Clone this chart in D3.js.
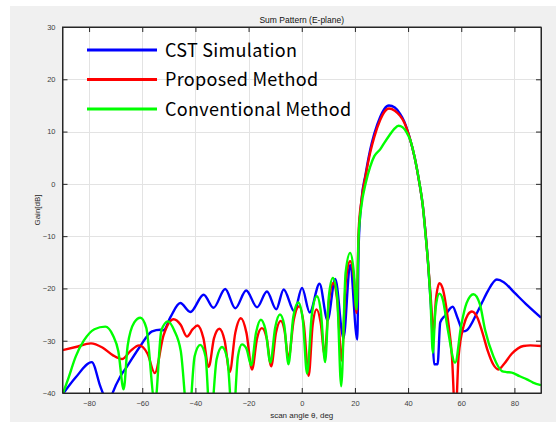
<!DOCTYPE html>
<html><head><meta charset="utf-8">
<script src="https://cdn.jsdelivr.net/npm/d3@7"></script>
<style>
html,body{margin:0;padding:0;background:#fff;}
svg{display:block;}
</style></head>
<body>
<svg id="c" width="556" height="422"></svg>
<script>
const chartTitle = "Sum Pattern (E-plane)";
const xLabel = "scan angle \u03B8, deg";
const yLabel = "Gain[dB]";
const xTicks = [-80,-60,-40,-20,0,20,40,60,80];
const yTicks = [-40,-30,-20,-10,0,10,20,30];
const seriesNames = ["CST Simulation","Proposed Method","Conventional Method"];
const seriesColors = ["#0000ff","#ff0000","#00ff00"];

const cstAngle = [-90,-85,-79,-75.8,-74.5,-73,-71.5,-68.2,-65.7,-60.7,-56.3,-53.2,-52,-49.4,-45.7,-41.9,-36.9,-33.2,-28.8,-25,-20.9,-16.8,-13.1,-9.6,-6.8,-2.8,0.1,3,6.7,9.7,12.6,15.7,18.2,20.9,21.4,22.5,24,25.75,27.3,29.5,31,32.8,35,37,38.5,40.5,42.5,44.3,45.5,46.5,47.5,48.5,49.2,49.8,51.1,52.1,53.9,56.8,58.5,60.8,62.1,65.9,68,70,73.4,76,80,85,90];
const cstGain  = [-40.3,-37,-34.1,-38.7,-40.5,-43,-40.5,-36.8,-34.9,-31,-28.2,-27.9,-28,-25.5,-22.8,-24.5,-21.2,-23.7,-20.1,-23.8,-20.4,-23.6,-20.6,-24,-20.2,-24.4,-19.9,-24.6,-19.1,-26.1,-18.2,-29.5,-15.5,-29.8,-12,-3,1.8,6.5,9.6,12.8,14.3,15,14.6,13.4,12,9,5,0,-4,-9,-15,-22.5,-29,-34.5,-34.5,-26.5,-25.2,-23.5,-25.5,-28.2,-28,-24.7,-22.5,-20.5,-18.3,-18.8,-20.8,-23.3,-25.6];

const propAngle = [-90,-85,-79.3,-75,-71,-67.6,-64.5,-61.2,-58,-55.3,-52,-48.2,-45.5,-43.2,-41,-39.2,-37,-35,-33,-31,-29,-27.1,-25,-22.9,-20.8,-18.7,-16.8,-15,-13.2,-11.5,-9.7,-7.9,-6.5,-5,-3,-1,0.8,2.6,4.1,5.6,7.1,8.6,10.2,11.8,13.4,15,16.6,18.2,19.6,20.6,21.4,22.5,24,25.75,27.3,29.5,31,32.8,35,37,38.5,40.5,42.5,44.3,45.5,46.5,47.5,48.5,49.5,50.5,51.8,53,55,56.5,57.8,59,61,62.5,64,66,68,70,72,74,76,79,83.4,86,90];
const propGain  = [-31.8,-31.2,-30.5,-31.3,-32.8,-33.5,-32,-30.9,-32.5,-36.2,-29,-25.9,-27,-29.2,-27.8,-27.1,-29.5,-35,-29.5,-27.7,-30,-36,-28.5,-25.7,-28.5,-35.5,-29.5,-27.6,-29.5,-34.9,-28.5,-26.2,-28,-33.4,-26,-23.4,-27,-36.7,-27,-24,-26.5,-32.6,-22.5,-19,-22.5,-33.8,-18.5,-14.8,-18,-24.7,-9,-3,1.5,6,9,12.2,13.7,14.4,14,13,11.8,9,5,0,-4,-9,-15,-21.5,-28.5,-22,-19,-20,-26,-33,-45,-33,-27,-25,-24.4,-25.5,-28.5,-32,-34.5,-35.5,-34.5,-32.5,-31,-30.9,-31];

const convAngle = [-90,-88,-85,-82,-78,-73.9,-71,-69,-67,-65.5,-63,-60.7,-58.5,-55.2,-52.8,-50.3,-48,-45.5,-42.6,-40.3,-38.2,-36.2,-34.4,-32,-30,-28,-25.9,-24,-22.5,-20.8,-19,-17.2,-15.4,-13.6,-11.8,-10,-8.2,-6.6,-5,-3.2,-1.3,0.4,2,3.8,5.7,7.2,8.8,10.2,11.7,13.3,14.85,16.5,18.2,19.5,20.6,21.4,22.5,24,25.75,27.3,29.5,31,33,34.8,36.4,38,39.5,40.8,42.5,44.3,45.5,46.5,47.5,48.5,49.3,50.3,51.8,53,55,57.7,60,62,64.6,67,69,72.1,75.3,77,79,82,84.7,87,90];
const convGain  = [-40.3,-37.5,-33,-30,-27.8,-27.3,-29,-32,-39.3,-31,-26.5,-25.6,-27.5,-42,-28,-26.3,-28,-32,-46,-33,-30.8,-33,-46,-33.5,-31.2,-33.5,-46,-33,-30.7,-31.5,-34.7,-28.5,-26,-28,-34.2,-27.5,-25,-27,-34.5,-25.5,-22.7,-26,-36.3,-25,-21.5,-24.5,-34.1,-21.5,-18,-21.5,-38.7,-17,-13.2,-16.5,-24,-10,-4,0,3.3,5.3,6.6,7.8,9.3,10.5,11.1,10.8,9.8,8.4,5,0.1,-4,-9.4,-15,-23,-32.3,-24,-21,-22,-28,-34.2,-27,-22.8,-21.1,-23,-28,-33,-35.8,-36,-36.1,-36.8,-37.4,-38,-38.5];

const series = [
  {name: seriesNames[0], color: seriesColors[0], angle: cstAngle, gain: cstGain},
  {name: seriesNames[1], color: seriesColors[1], angle: propAngle, gain: propGain},
  {name: seriesNames[2], color: seriesColors[2], angle: convAngle, gain: convGain}
];

const svg = d3.select("#c");
const W = 556, H = 422;
const L = 62.5, R = 541, T = 27, B = 393;

svg.append("rect").attr("x",10).attr("y",6).attr("width",W-10).attr("height",H-6).attr("fill","#f0f0f0");
svg.append("rect").attr("x",L).attr("y",T).attr("width",R-L).attr("height",B-T).attr("fill","#ffffff");

const x = d3.scaleLinear().domain([-90,90]).range([L,R]);
const y = d3.scaleLinear().domain([-40,30]).range([B,T]);

// grid
const grid = svg.append("g").attr("stroke","#e3e3e3").attr("stroke-width",1);
xTicks.forEach(t=>grid.append("line").attr("x1",Math.round(x(t))+0.5).attr("x2",Math.round(x(t))+0.5).attr("y1",T).attr("y2",B));
yTicks.forEach(t=>grid.append("line").attr("y1",Math.round(y(t))+0.5).attr("y2",Math.round(y(t))+0.5).attr("x1",L).attr("x2",R));

// clip
svg.append("defs").append("clipPath").attr("id","pc").append("rect").attr("x",L).attr("y",T).attr("width",R-L).attr("height",B-T);

const line = d3.line().x(d=>x(d[0])).y(d=>y(d[1])).curve(d3.curveMonotoneX);
const lines = svg.append("g").attr("clip-path","url(#pc)");
series.forEach(s=>{
  const pts = s.angle.map((a,i)=>[a,s.gain[i]]);
  lines.append("path").attr("d",line(pts)).attr("fill","none").attr("stroke",s.color).attr("stroke-width",2.4).attr("stroke-linejoin","round");
});

// axes
const fontTick = "Helvetica, Arial, 'Liberation Sans', sans-serif";
const xAxB = d3.axisBottom(x).tickValues(xTicks).tickSizeInner(-5).tickSizeOuter(0).tickPadding(8);
const xAxT = d3.axisTop(x).tickValues(xTicks).tickSizeInner(-5).tickSizeOuter(0).tickFormat("");
const yAxL = d3.axisLeft(y).tickValues(yTicks).tickSizeInner(-5).tickSizeOuter(0).tickPadding(7);
const yAxR = d3.axisRight(y).tickValues(yTicks).tickSizeInner(-5).tickSizeOuter(0).tickFormat("");
function style(g){
  g.selectAll("path").attr("stroke","#262626");
  g.selectAll("line").attr("stroke","#262626");
  g.selectAll("text").attr("fill","#404040").attr("font-family",fontTick).attr("font-size","7.5px");
}
svg.append("g").attr("transform",`translate(0,${B})`).call(xAxB).call(style);
svg.append("g").attr("transform",`translate(0,${T})`).call(xAxT).call(style);
svg.append("g").attr("transform",`translate(${L},0)`).call(yAxL).call(style);
svg.append("g").attr("transform",`translate(${R},0)`).call(yAxR).call(style);
svg.append("rect").attr("x",L).attr("y",T).attr("width",R-L).attr("height",B-T).attr("fill","none").attr("stroke","#262626").attr("stroke-width",1);

svg.append("text").attr("x",(L+R)/2).attr("y",23).attr("text-anchor","middle").attr("font-family",fontTick).attr("font-size","8.5px").attr("fill","#111").text(chartTitle);
svg.append("text").attr("x",(L+R)/2).attr("y",418).attr("text-anchor","middle").attr("font-family",fontTick).attr("font-size","8px").attr("fill","#262626").text(xLabel);
svg.append("text").attr("transform",`translate(40,${(T+B)/2}) rotate(-90)`).attr("text-anchor","middle").attr("font-family",fontTick).attr("font-size","8px").attr("fill","#262626").text(yLabel);

// legend
const lg = svg.append("g");
series.forEach((s,i)=>{
  const yy = 50 + i*29.5;
  lg.append("line").attr("x1",87).attr("x2",157).attr("y1",yy).attr("y2",yy).attr("stroke",s.color).attr("stroke-width",3);
  lg.append("text").attr("x",165).attr("y",yy+6.5).attr("font-family","'Noto Sans CJK KR','Noto Sans',sans-serif").attr("font-size","18px").attr("letter-spacing","0.3px").attr("fill","#000").text(s.name);
});
</script>
</body></html>
